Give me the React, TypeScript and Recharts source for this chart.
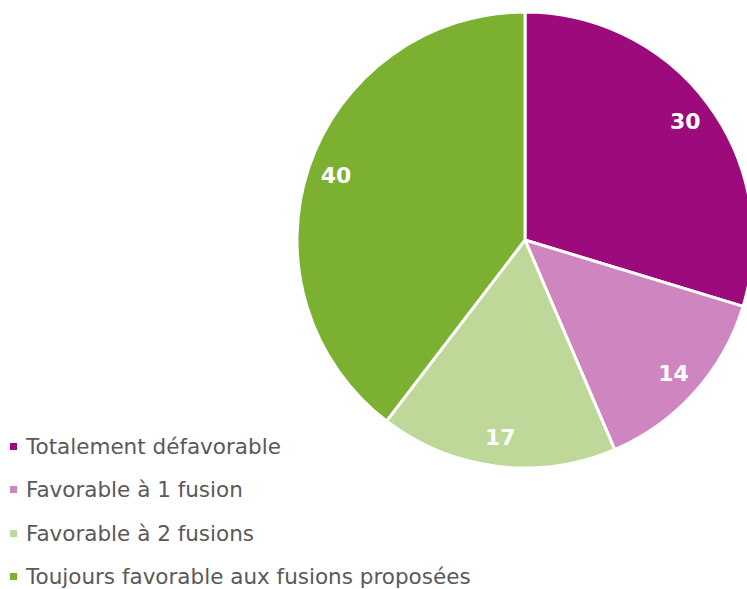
import React from 'react';
import { PieChart, Pie, Cell, Legend } from 'recharts';

const categories = [
	'Totalement défavorable',
	'Favorable à 1 fusion',
	'Favorable à 2 fusions',
	'Toujours favorable aux fusions proposées',
];
const values = [30, 14, 17, 40];
const colors = ['#9C0A7B', '#CF85C0', '#BED899', '#7BB031'];

const data = categories.map((name, i) => ({ name, value: values[i], fill: colors[i] }));

const RADIAN = Math.PI / 180;

const renderLabel = (props: any) => {
	const { cx, cy, midAngle, outerRadius, value } = props;
	const r = outerRadius * 0.875;
	const x = cx + r * Math.cos(-midAngle * RADIAN);
	const y = cy + r * Math.sin(-midAngle * RADIAN);
	return (
		<text x={x} y={y} fill="#ffffff" textAnchor="middle" dominantBaseline="central" fontSize={22} fontWeight="bold" fontFamily="DejaVu Sans">
			{value}
		</text>
	);
};

// legend drawn in the data's own order (recharts sorts payload otherwise)
const renderLegend = () => (
	<div>
		{data.map((entry, i) => (
			<div key={`leg-${i}`} style={{ display: 'flex', alignItems: 'center', height: 43.3 }}>
				<span style={{ display: 'inline-block', width: 7, height: 7, background: entry.fill, marginLeft: 10, marginRight: 9 }} />
				<span style={{ fontFamily: 'DejaVu Sans', fontSize: 21.5, color: '#595959', whiteSpace: 'nowrap' }}>{entry.name}</span>
			</div>
		))}
	</div>
);

export default function App() {
	return (
		<div style={{ position: 'absolute', left: 0, top: 0, width: 747, height: 589, background: '#fff' }}>
			<PieChart width={747} height={589} margin={{ top: 0, right: 0, bottom: 0, left: 0 }}>
				<Pie
					data={data}
					dataKey="value"
					nameKey="name"
					cx={525}
					cy={240}
					outerRadius={228}
					startAngle={90}
					endAngle={-270}
					stroke="#ffffff"
					strokeWidth={3}
					labelLine={false}
					label={renderLabel}
					isAnimationActive={false}
				>
					{data.map((entry, index) => (
						<Cell key={`cell-${index}`} fill={entry.fill} />
					))}
				</Pie>
				<Legend
					content={renderLegend}
					layout="vertical"
					wrapperStyle={{ position: 'absolute', left: 0, top: 425, width: 520 }}
				/>
			</PieChart>
		</div>
	);
}
